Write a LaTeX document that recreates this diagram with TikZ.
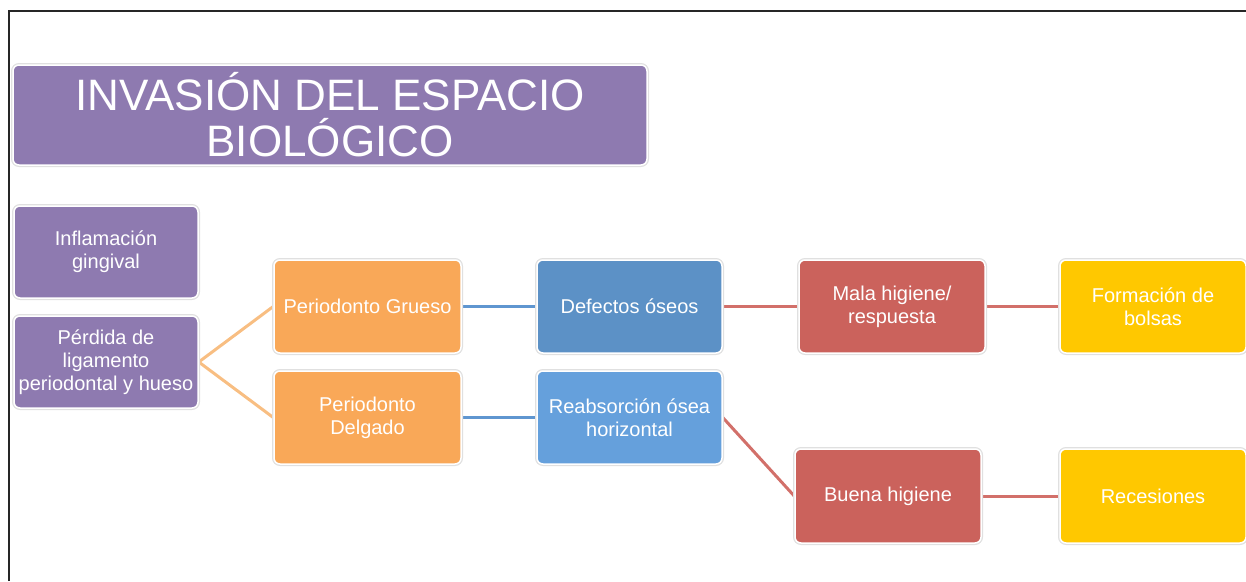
\documentclass[tikz,border=0pt]{standalone}
\usepackage{fontspec}
\setmainfont{Liberation Sans}
\usetikzlibrary{backgrounds}
\definecolor{cpurple}{RGB}{142,122,176}
\definecolor{corange}{RGB}{249,168,88}
\definecolor{cblueD}{RGB}{92,145,198}
\definecolor{cblueL}{RGB}{101,160,220}
\definecolor{cred}{RGB}{203,98,92}
\definecolor{cyellow}{RGB}{255,200,0}
\definecolor{lorange}{RGB}{248,190,130}
\definecolor{lblue}{RGB}{95,150,208}
\definecolor{lred}{RGB}{210,112,106}
\tikzset{
  box/.style={rounded corners=6pt, draw=white, line width=1.5pt, text=white,
    align=center, inner sep=0pt, font=\fontsize{20}{23}\selectfont,
    preaction={draw=black!12, line width=4pt}},
  conn/.style={line width=3pt}
}
\begin{document}
\begin{tikzpicture}[x=1pt,y=-1pt]
\useasboundingbox (0,0) rectangle (1246,581);
\draw[line width=1.3pt, black!85] (9,581) -- (9,11) -- (1246,11);
\node[box, fill=cpurple, minimum width=634pt, minimum height=100pt,
  font=\fontsize{44}{46}\selectfont] (title) at (330,115) {INVASIÓN DEL ESPACIO\\BIOLÓGICO};
\node[box, fill=cpurple, minimum width=184pt, minimum height=92pt] (infl) at (106,252) {Inflamación\\gingival};
\node[box, fill=cpurple, minimum width=184pt, minimum height=92pt] (perd) at (106,362) {Pérdida de\\ligamento\\periodontal y hueso};
\node[box, fill=corange, minimum width=187pt, minimum height=93pt] (pg) at (367.5,306.5) {Periodonto Grueso};
\node[box, fill=corange, minimum width=187pt, minimum height=93pt] (pd) at (367.5,417.5) {Periodonto\\Delgado};
\node[box, fill=cblueD, minimum width=185pt, minimum height=93pt] (def) at (629.5,306.5) {Defectos óseos};
\node[box, fill=cblueL, minimum width=185pt, minimum height=93pt] (reab) at (629.5,417.5) {Reabsorción ósea\\horizontal};
\node[box, fill=cred, minimum width=186pt, minimum height=93pt] (mala) at (892,306.5) {Mala higiene/\\respuesta};
\node[box, fill=cred, minimum width=186pt, minimum height=94pt] (buena) at (888,496) {Buena higiene};
\node[box, fill=cyellow, minimum width=186pt, minimum height=93pt] (form) at (1153,306.5) {Formación de\\bolsas};
\node[box, fill=cyellow, minimum width=186pt, minimum height=94pt] (rec) at (1153,496) {Recesiones};
\begin{scope}[on background layer]
\draw[conn, lorange] (perd.east) -- (pg.west);
\draw[conn, lorange] (perd.east) -- (pd.west);
\draw[conn, lblue] (pg.east) -- (def.west);
\draw[conn, lblue] (pd.east) -- (reab.west);
\draw[conn, lred] (def.east) -- (mala.west);
\draw[conn, lred] (reab.east) -- (buena.west);
\draw[conn, lred] (mala.east) -- (form.west);
\draw[conn, lred] (buena.east) -- (rec.west);
\end{scope}
\end{tikzpicture}
\end{document}
